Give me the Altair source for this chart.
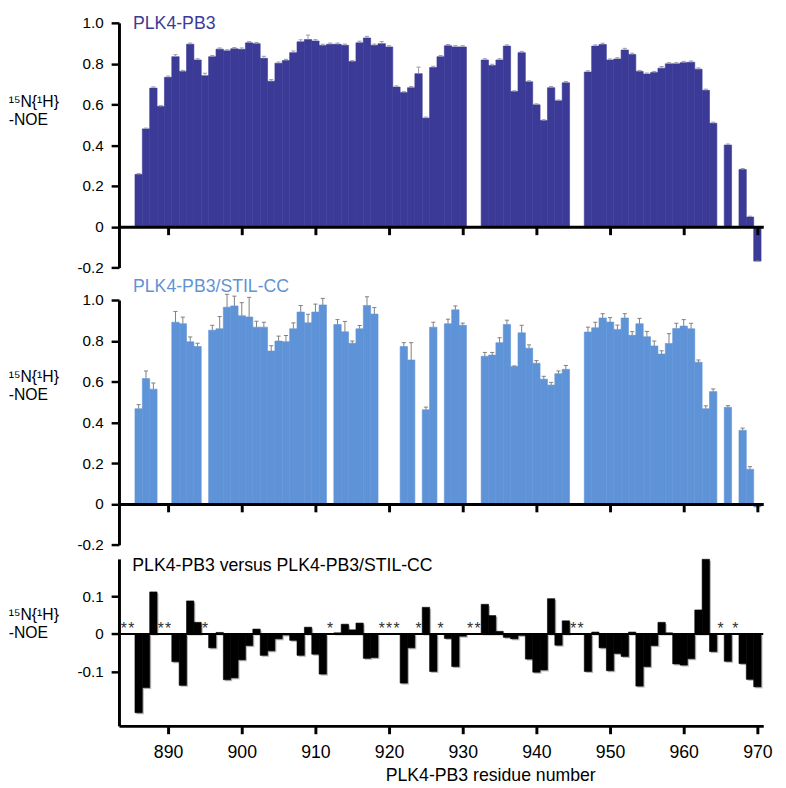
import altair as alt
import pandas as pd

# ---------------- data ----------------
free_res = list(range(886, 931)) + list(range(933, 945)) + list(range(947, 965)) + [966, 968, 969, 970]
free_noe = [0.257, 0.48, 0.68, 0.59, 0.733, 0.834, 0.762, 0.895, 0.818, 0.741,
            0.834, 0.871, 0.863, 0.873, 0.87, 0.902, 0.898, 0.826, 0.714, 0.802,
            0.815, 0.854, 0.907, 0.918, 0.911, 0.889, 0.895, 0.895, 0.89, 0.81,
            0.902, 0.926, 0.89, 0.898, 0.882, 0.685, 0.658, 0.682, 0.751, 0.533,
            0.781, 0.834, 0.888, 0.882, 0.882,
            0.818, 0.791, 0.818, 0.886, 0.663, 0.854, 0.711, 0.598, 0.521, 0.682, 0.618, 0.706,
            0.759, 0.886, 0.894, 0.818, 0.823, 0.867, 0.845, 0.762, 0.749, 0.757,
            0.778, 0.799, 0.799, 0.805, 0.807, 0.773, 0.669, 0.508,
            0.401, 0.281, 0.048, -0.168]
free_err = [0.004, 0.004, 0.006, 0.005, 0.006, 0.01, 0.005, 0.006, 0.006, 0.012,
            0.006, 0.006, 0.005, 0.006, 0.007, 0.006, 0.006, 0.01, 0.008, 0.006,
            0.006, 0.008, 0.01, 0.022, 0.007, 0.006, 0.006, 0.006, 0.006, 0.005,
            0.008, 0.008, 0.006, 0.01, 0.006, 0.006, 0.005, 0.006, 0.032, 0.005,
            0.006, 0.006, 0.006, 0.006, 0.006,
            0.006, 0.006, 0.006, 0.006, 0.004, 0.006, 0.005, 0.005, 0.004, 0.006, 0.004, 0.006,
            0.006, 0.006, 0.006, 0.005, 0.006, 0.008, 0.006, 0.005, 0.005, 0.005,
            0.008, 0.006, 0.006, 0.006, 0.006, 0.006, 0.006, 0.005,
            0.005, 0.005, 0.004, 0.0]

cplx_res = ([886, 887, 888, 891, 892, 893, 894] + list(range(896, 912)) +
            [913, 914, 915, 916, 917, 918, 922, 923, 925, 926, 928, 929, 930] +
            list(range(933, 945)) + list(range(947, 965)) + [966, 968, 969, 970])
cplx_noe = [0.467, 0.615, 0.563, 0.891, 0.884, 0.795, 0.772,
            0.852, 0.859, 0.965, 0.971, 0.923, 0.917, 0.867, 0.867, 0.75, 0.799,
            0.796, 0.859, 0.941, 0.888, 0.941, 0.976,
            0.88, 0.844, 0.788, 0.859, 0.973, 0.931, 0.772, 0.706, 0.462, 0.867, 0.884, 0.952, 0.876,
            0.724, 0.73, 0.791, 0.88, 0.674, 0.839, 0.764, 0.69, 0.612, 0.583, 0.639, 0.66,
            0.843, 0.864, 0.912, 0.892, 0.856, 0.912, 0.827, 0.884, 0.82, 0.775,
            0.735, 0.787, 0.86, 0.872, 0.859, 0.695, 0.467, 0.551,
            0.474, 0.361, 0.17, -0.014]
cplx_err = [0.02, 0.037, 0.03, 0.053, 0.032, 0.024, 0.016,
            0.024, 0.06, 0.063, 0.048, 0.064, 0.096, 0.029, 0.024, 0.026, 0.024,
            0.03, 0.029, 0.032, 0.042, 0.039, 0.032,
            0.024, 0.051, 0.011, 0.016, 0.043, 0.032, 0.019, 0.085, 0.013, 0.024, 0.022, 0.019, 0.011,
            0.019, 0.013, 0.024, 0.021, 0.003, 0.037, 0.016, 0.013, 0.014, 0.013, 0.013, 0.019,
            0.024, 0.027, 0.021, 0.022, 0.021, 0.021, 0.018, 0.026, 0.026, 0.024,
            0.016, 0.048, 0.026, 0.032, 0.027, 0.011, 0.014, 0.013,
            0.008, 0.011, 0.013, 0.0]

diff_res = cplx_res
diff_val = [-0.21, -0.143, 0.112, -0.074, -0.137, 0.088, 0.031,
            -0.037, 0.004, -0.122, -0.117, -0.069, -0.031, 0.013, -0.057, -0.045, -0.013,
            -0.003, -0.017, -0.057, 0.018, -0.054, -0.107,
            0.003, 0.026, 0.011, 0.029, -0.065, -0.063, -0.131, -0.037, 0.071, -0.1, -0.012, -0.087, -0.006,
            0.079, 0.049, 0.007, -0.009, -0.013, -0.004, -0.067, -0.102, -0.096, 0.094, -0.03, 0.035,
            -0.1, 0.005, -0.037, -0.098, -0.052, -0.06, 0.005, -0.139, -0.087, -0.031,
            0.031, 0.003, -0.08, -0.083, -0.066, 0.064, 0.199, -0.047,
            -0.073, -0.079, -0.121, -0.141]
star_res = [884, 885, 889, 890, 895, 912, 919, 920, 921, 924, 927, 931, 932, 945, 946, 965, 967]

x_ticks = [890, 900, 910, 920, 930, 940, 950, 960, 970]
y_ticks_noe = [-0.2, 0, 0.2, 0.4, 0.6, 0.8, 1.0]
y_ticks_diff = [-0.1, 0, 0.1]

title_free = "PLK4-PB3"
title_cplx = "PLK4-PB3/STIL-CC"
title_diff = "PLK4-PB3 versus PLK4-PB3/STIL-CC"
y_title = ["¹⁵N{¹H}", "-NOE"]
x_title = "PLK4-PB3 residue number"

# ---------------- layout constants ----------------
W = 656
H_NOE = 249.2
H_DIFF = 170
X_DOMAIN = [883.33, 970.8]
FREE_COLOR = "#3B3B97"
CPLX_COLOR = "#5F93D7"
LABEL_EXPR = ("datum.value == 0 ? '0' : (datum.value < 0 ? '-' + format(-datum.value, '.1f') "
              ": format(datum.value, '.1f'))")

xscale = alt.Scale(domain=X_DOMAIN, nice=False, zero=False)


def y_axis(values, title_y):
    return alt.Axis(values=values, labelExpr=LABEL_EXPR, title=y_title, titleAngle=0,
                    titleAlign="left", titleBaseline="alphabetic", titleX=-112.7, titleY=title_y,
                    titleFontSize=16, titleFontWeight="normal", titleLineHeight=18,
                    titleColor="black", tickSize=8, tickWidth=2.5, tickColor="black",
                    domainWidth=3, domainColor="black", labelFontSize=15.5, labelPadding=8,
                    labelColor="black", grid=False)


def noe_panel(res, noe, err, color, err_color, title, title_y_px, title_baseline, ytitle_y):
    df = pd.DataFrame({"res": res, "noe": noe, "err": err})
    base = alt.Chart(df).transform_calculate(
        lo="datum.res - 0.5", hi="datum.res + 0.5",
        top="datum.noe + datum.err", clo="datum.res - 0.28", chi="datum.res + 0.28")
    yscale = alt.Scale(domain=[-0.2, 1.0], nice=False, zero=False)
    xaxis = alt.Axis(values=x_ticks, labels=False, title=None, offset=-H_NOE * 0.2 / 1.2,
                     tickSize=8, tickWidth=3, tickColor="black", domainWidth=3,
                     domainColor="black", zindex=1, grid=False)
    bars = base.mark_rect(color=color, stroke=color, strokeWidth=0.6).encode(
        x=alt.X("lo:Q", scale=xscale, axis=xaxis),
        x2="hi:Q",
        y=alt.Y("noe:Q", scale=yscale, axis=y_axis(y_ticks_noe, ytitle_y)),
        y2=alt.datum(0))
    err_line = base.mark_rule(color=err_color, strokeWidth=1).encode(
        x=alt.X("res:Q"), y=alt.Y("noe:Q"), y2="top:Q")
    cap = base.mark_rule(color=err_color, strokeWidth=1).encode(
        x=alt.X("clo:Q"), x2="chi:Q", y=alt.Y("top:Q"))
    ttl = alt.Chart(pd.DataFrame({"t": [title]})).mark_text(
        align="left", baseline=title_baseline, fontSize=18, color=color).encode(
        text="t:N", x=alt.value(14.3), y=alt.value(title_y_px))
    return alt.layer(bars, err_line, cap, ttl).properties(width=W, height=H_NOE)


top = noe_panel(free_res, free_noe, free_err, FREE_COLOR, "#9a9aa8", title_free, -7.7, "top", 85)
mid = noe_panel(cplx_res, cplx_noe, cplx_err, CPLX_COLOR, "#808080", title_cplx, -8.4, "alphabetic", 83)

spacer = alt.Chart(pd.DataFrame({"t": [""]})).mark_text().encode(
    text="t:N", x=alt.value(0), y=alt.value(0)).properties(width=W, height=4.6)

# bottom difference panel
ddf = pd.DataFrame({"res": diff_res, "val": diff_val})
dbase = alt.Chart(ddf).transform_calculate(
    lo="datum.res - 0.5", hi="datum.res + 0.5",
    slo="datum.res - 0.3", shi="datum.res + 0.7",
    sy="datum.val - 0.004", sy2="-0.004")
dyscale = alt.Scale(domain=[-0.245, 0.2], nice=False, zero=False)
dxaxis = alt.Axis(values=x_ticks, labelFontSize=18, labelColor="black", labelPadding=10,
                  tickSize=8, tickWidth=3, tickColor="black", domainWidth=3, domainColor="black",
                  title=x_title, titleFontSize=18, titleFontWeight="normal", titleColor="black",
                  titleX=378, titleY=56, titleBaseline="alphabetic", titleAlign="center", grid=False)
shadow = dbase.mark_rect(color="#9a9a9a", opacity=0.7).encode(
    x=alt.X("slo:Q", scale=xscale, axis=dxaxis), x2="shi:Q",
    y=alt.Y("sy:Q", scale=dyscale, axis=y_axis(y_ticks_diff, 62)), y2="sy2:Q")
dbars = dbase.mark_rect(color="black", stroke="black", strokeWidth=0.6).encode(
    x=alt.X("lo:Q"), x2="hi:Q", y=alt.Y("val:Q"), y2=alt.datum(0))
zero = alt.Chart(pd.DataFrame({"z": [0]})).mark_rule(color="black", strokeWidth=2).encode(
    y=alt.Y("z:Q"))
stars = alt.Chart(pd.DataFrame({"res": star_res})).mark_text(
    text="*", fontSize=16, color="#333333", baseline="alphabetic").encode(
    x=alt.X("res:Q"), y=alt.datum(0))
dttl = alt.Chart(pd.DataFrame({"t": [title_diff]})).mark_text(
    align="left", baseline="alphabetic", fontSize=18, color="black").encode(
    text="t:N", x=alt.value(13.6), y=alt.value(12.4))
bot = alt.layer(shadow, dbars, zero, stars, dttl).properties(width=W, height=H_DIFF)

chart = alt.vconcat(top, spacer, mid, bot, spacing=13.6, bounds="flush").properties(
    padding={"left": 0, "top": 0, "right": 5, "bottom": 0}
).configure(font="Liberation Sans").configure_view(stroke=None)

chart.save("out.html", embed_options={"renderer": "svg", "actions": False})
